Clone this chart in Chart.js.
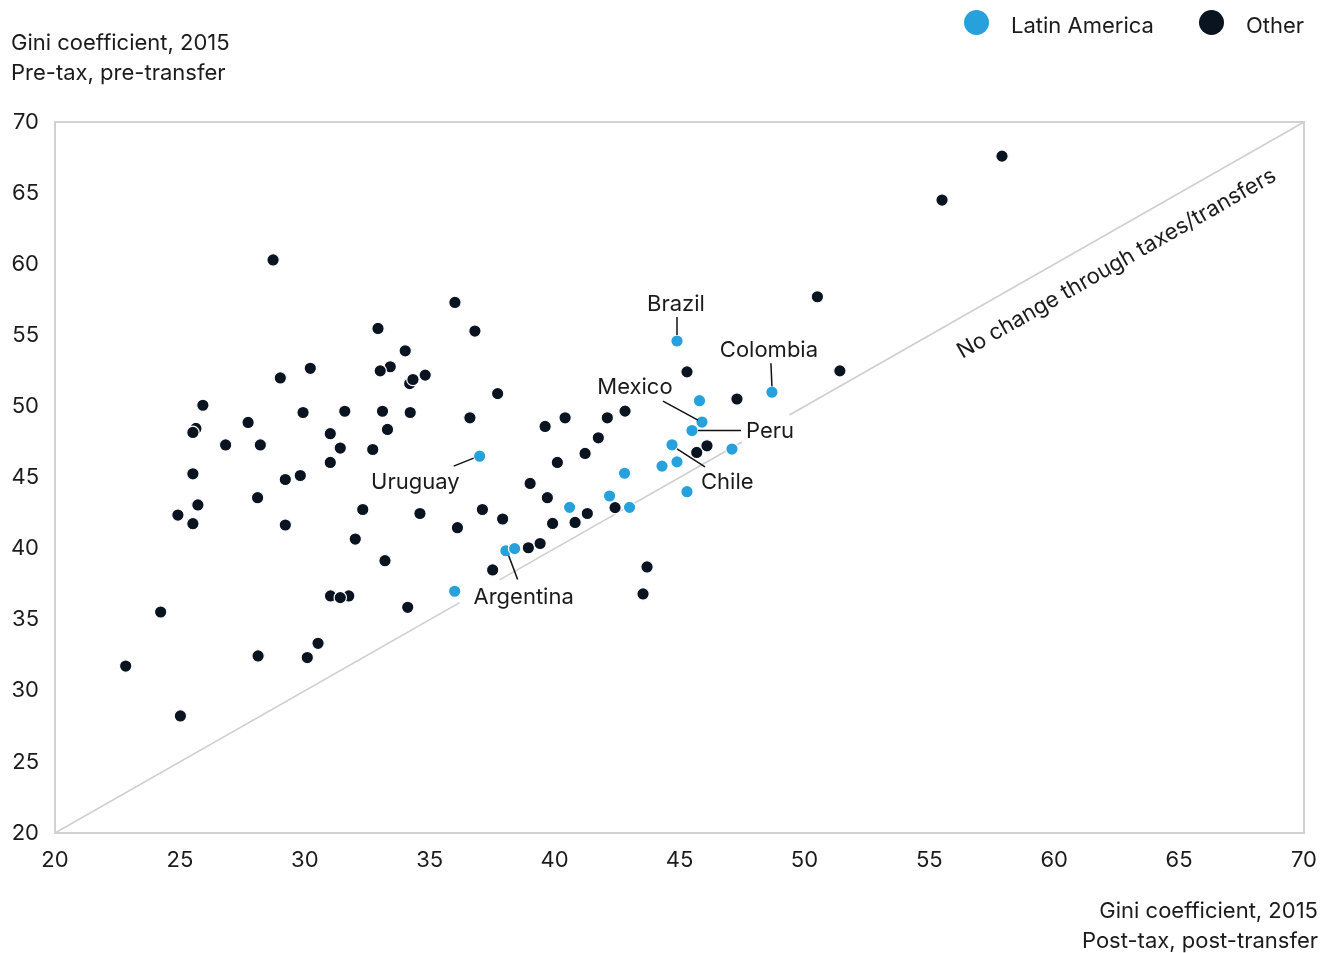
<!DOCTYPE html>
<html>
<head>
<meta charset="utf-8">
<script src="https://cdn.jsdelivr.net/npm/chart.js@4.4.1/dist/chart.umd.min.js"></script>
<style>
  html, body { margin: 0; padding: 0; background: #fff; }
  #wrap { position: relative; width: 1333px; height: 953px; font-family: Inter, Roboto, sans-serif; color: #1b1b1b; }
  #wrap canvas { position: absolute; left: 0; top: 0; }
  .t { position: absolute; font-size: 22px; line-height: 30px; white-space: nowrap; }
  .dot { position: absolute; width: 25px; height: 25px; border-radius: 50%; }
</style>
</head>
<body>
<div id="wrap">
  <canvas id="myChart" width="1333" height="953"></canvas>
  <div class="t" style="left:11px;top:27px">Gini coefficient, 2015<br>Pre-tax, pre-transfer</div>
  <div class="t" style="right:15px;top:895px;text-align:right">Gini coefficient, 2015<br>Post-tax, post-transfer</div>
  <div class="dot" style="left:964px;top:10px;background:#27a1dc"></div>
  <div class="t" style="left:1011px;top:10px">Latin America</div>
  <div class="dot" style="left:1199px;top:10px;background:#0a1320"></div>
  <div class="t" style="left:1246px;top:10px">Other</div>
</div>
<script>
var $ = function (id) { return document.getElementById(id); };

// Latin America (post-tax x, pre-tax y)
const latX = [44.9, 48.7, 45.8, 45.9, 45.5, 44.7, 47.1, 44.3, 44.9, 42.8, 45.3, 42.2, 43.0, 40.6, 37.0, 38.05, 38.4, 36.0];
const latY = [54.6, 51.0, 50.4, 48.9, 48.3, 47.3, 47.0, 45.8, 46.1, 45.3, 44.0, 43.7, 42.9, 42.9, 46.5, 39.85, 40.0, 37.0];
const latNames = ["Brazil", "Colombia", "", "Mexico", "Peru", "Chile", "", "", "", "", "", "", "", "", "Uruguay", "", "Argentina", ""];

// Other countries
const otherX = [28.73, 30.22, 29.02, 25.92, 29.93, 31.6, 27.73, 25.64, 25.52, 26.83,
  28.22, 31.02, 31.42, 31.02, 25.52, 29.22, 29.82, 28.11, 25.72, 24.92,
  25.52, 29.22, 36.01, 32.93, 36.81, 34.02, 33.42, 33.02, 34.82, 34.2,
  34.33, 37.72, 33.11, 34.22, 36.61, 33.31, 39.62, 40.42, 32.72, 41.75,
  41.22, 40.11, 39.02, 39.71, 32.32, 34.61, 37.11, 37.92, 36.11, 41.31,
  39.92, 40.82, 32.02, 33.21, 38.95, 39.42, 37.52, 50.52, 45.3, 51.42,
  47.3, 42.11, 42.82, 45.69, 46.1, 42.42, 24.23, 31.03, 31.76, 31.42,
  34.12, 28.13, 30.1, 30.53, 22.83, 25.02, 43.54, 43.7, 55.51, 57.91];
const otherY = [60.3, 52.68, 52.0, 50.08, 49.57, 49.66, 48.87, 48.45, 48.17, 47.29,
  47.29, 48.08, 47.07, 46.06, 45.26, 44.86, 45.14, 43.58, 43.07, 42.36,
  41.75, 41.66, 57.31, 55.48, 55.3, 53.91, 52.79, 52.5, 52.2, 51.6,
  51.89, 50.9, 49.66, 49.57, 49.2, 48.38, 48.59, 49.2, 46.97, 47.79,
  46.69, 46.06, 44.58, 43.58, 42.75, 42.47, 42.75, 42.08, 41.47, 42.47,
  41.77, 41.84, 40.67, 39.15, 40.06, 40.36, 38.5, 57.71, 52.43, 52.5,
  50.52, 49.2, 49.67, 46.76, 47.23, 42.88, 35.54, 36.67, 36.67, 36.55,
  35.87, 32.45, 32.34, 33.34, 31.74, 28.23, 36.81, 38.71, 64.51, 67.6];

// y = x reference line, broken where labels sit
const refSegments = [[20, 36.2], [37.8, 47.5], [49.4, 70]];
const refLabel = "No change through taxes/transfers";

const axisTicks = [20, 25, 30, 35, 40, 45, 50, 55, 60, 65, 70];

const BLUE = "#27a1dc";
const DARK = "#0a1320";
const FONT = "Inter, Roboto, sans-serif";

const toPoints = (xs, ys) => xs.map((x, i) => ({ x: x, y: ys[i] }));

const refData = [];
refSegments.forEach((seg, i) => {
  if (i > 0) refData.push({ x: seg[0], y: null });
  refData.push({ x: seg[0], y: seg[0] });
  refData.push({ x: seg[1], y: seg[1] });
});

// label placement relative to the point, in pixels
const labelStyle = {
  Brazil:    { tx: -1, ty: -37, align: "center", l: [0, -24, 0, -6] },
  Colombia:  { tx: -3, ty: -42, align: "center", l: [-1, -29, 0, -6] },
  Mexico:    { tx: -67, ty: -35, align: "center", l: [-39, -21, -4, -2] },
  Peru:      { tx: 54, ty: 1, align: "left", l: [6, 0, 49, 0] },
  Chile:     { tx: 29, ty: 38, align: "left", l: [5, 4, 33, 22] },
  Uruguay:   { tx: -20, ty: 26, align: "right", l: [-26, 10, -6, 2] },
  Argentina: { tx: 9, ty: 49, align: "center", l: [-6, 7, 3, 31] }
};

const frame = {
  id: "frame",
  beforeDatasetsDraw(chart) {
    const a = chart.chartArea, ctx = chart.ctx;
    ctx.save();
    ctx.strokeStyle = "#d2d2d2";
    ctx.lineWidth = 2;
    ctx.strokeRect(a.left, a.top, a.right - a.left, a.bottom - a.top);
    ctx.restore();
  }
};

const labels = {
  id: "labels",
  afterDatasetsDraw(chart) {
    const ctx = chart.ctx, xs = chart.scales.x, ys = chart.scales.y;
    ctx.save();
    ctx.font = "22px " + FONT;
    ctx.fillStyle = "#1b1b1b";
    ctx.strokeStyle = "#111";
    ctx.lineWidth = 1.5;
    ctx.textBaseline = "middle";
    latNames.forEach((name, i) => {
      if (!name) return;
      const s = labelStyle[name];
      const px = xs.getPixelForValue(latX[i]), py = ys.getPixelForValue(latY[i]);
      ctx.beginPath();
      ctx.moveTo(px + s.l[0], py + s.l[1]);
      ctx.lineTo(px + s.l[2], py + s.l[3]);
      ctx.stroke();
      ctx.textAlign = s.align;
      ctx.fillText(name, px + s.tx, py + s.ty);
    });
    // diagonal caption
    const x1 = xs.getPixelForValue(20), y1 = ys.getPixelForValue(20);
    const x2 = xs.getPixelForValue(70), y2 = ys.getPixelForValue(70);
    const ang = Math.atan2(y2 - y1, x2 - x1);
    const cx = xs.getPixelForValue(62.5), cy = ys.getPixelForValue(62.5) + 35;
    ctx.translate(cx, cy);
    ctx.rotate(ang);
    ctx.textAlign = "center";
    ctx.fillText(refLabel, 0, 0);
    ctx.restore();
  }
};

const tickFont = { family: FONT, size: 22 };

new Chart($("myChart").getContext("2d"), {
  type: "scatter",
  data: {
    datasets: [
      {
        label: "Latin America",
        data: toPoints(latX, latY),
        backgroundColor: BLUE,
        borderColor: "#fff",
        borderWidth: 1.2,
        pointRadius: 6.2,
        order: 1
      },
      {
        label: "Other",
        data: toPoints(otherX, otherY),
        backgroundColor: DARK,
        borderColor: "#fff",
        borderWidth: 1.2,
        pointRadius: 6.2,
        order: 2
      },
      {
        type: "line",
        label: "ref",
        data: refData,
        borderColor: "#cfcfcf",
        borderWidth: 1.6,
        pointRadius: 0,
        spanGaps: false,
        order: 3
      }
    ]
  },
  options: {
    responsive: false,
    animation: false,
    devicePixelRatio: 1,
    layout: { padding: { left: 0, top: 122, right: 29, bottom: 70 } },
    plugins: { legend: { display: false }, tooltip: { enabled: false } },
    scales: {
      x: {
        type: "linear",
        min: 20, max: 70,
        afterBuildTicks: s => { s.ticks = axisTicks.map(v => ({ value: v })); },
        afterFit: s => { s.height = 50; },
        grid: { display: false, drawTicks: false },
        border: { display: false },
        ticks: { font: tickFont, color: "#1b1b1b", padding: 14, maxRotation: 0 }
      },
      y: {
        type: "linear",
        min: 20, max: 70,
        afterBuildTicks: s => { s.ticks = axisTicks.map(v => ({ value: v })); },
        afterFit: s => { s.width = 55; },
        grid: { display: false, drawTicks: false },
        border: { display: false },
        ticks: { font: tickFont, color: "#1b1b1b", padding: 16 }
      }
    }
  },
  plugins: [frame, labels]
});
</script>
</body>
</html>
